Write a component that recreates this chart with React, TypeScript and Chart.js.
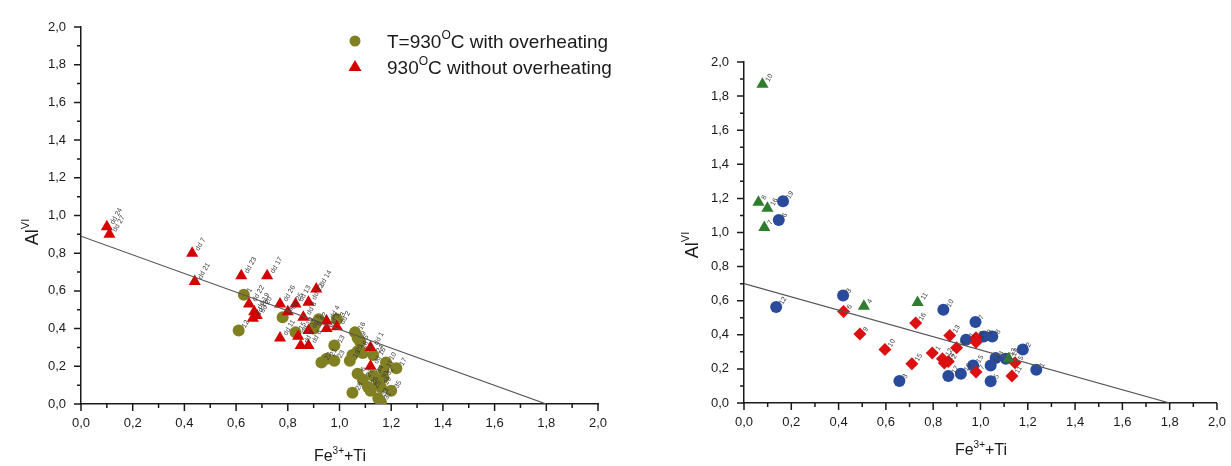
import React, { useEffect, useRef } from "react";
import { Chart, registerables } from "chart.js";
Chart.register(...registerables);

const FONT = "'Liberation Sans', Arial, sans-serif";

const tickValues = [0, 0.2, 0.4, 0.6, 0.8, 1.0, 1.2, 1.4, 1.6, 1.8, 2.0];
const tickLabels = ["0,0", "0,2", "0,4", "0,6", "0,8", "1,0", "1,2", "1,4", "1,6", "1,8", "2,0"];

// ---- Left panel ----
const oliveX = [0.63, 0.61, 0.78, 0.83, 0.91, 0.9, 0.92, 0.99, 0.98, 0.93, 0.95, 0.98, 1.06, 1.07, 1.08, 1.05, 1.04, 1.07, 1.09, 1.13, 1.18, 1.22, 1.17, 1.07, 1.05, 1.09, 1.11, 1.12, 1.15, 1.16, 1.17, 1.15, 1.16, 1.13, 1.2];
const oliveY = [0.58, 0.39, 0.46, 0.38, 0.43, 0.4, 0.45, 0.45, 0.31, 0.22, 0.24, 0.23, 0.38, 0.35, 0.33, 0.26, 0.23, 0.28, 0.27, 0.26, 0.22, 0.19, 0.18, 0.16, 0.06, 0.13, 0.09, 0.07, 0.12, 0.09, 0.14, 0.03, 0.01, 0.15, 0.07];
const oliveLabels = ["1", "12", "16", "15", "4", "8", "2", "3", "13", "22", "21", "23", "16", "9", "5", "20", "19", "18", "14", "24", "10", "17", "11", "6", "28", "27", "26", "25", "30", "29", "32", "33", "31", "34", "35"];

const redTriX = [0.1, 0.11, 0.43, 0.44, 0.62, 0.72, 0.91, 0.65, 0.67, 0.665, 0.68, 0.77, 0.8, 0.83, 0.88, 0.86, 0.77, 0.84, 0.85, 0.88, 0.88, 0.95, 0.95, 0.99, 1.12, 1.12];
const redTriY = [0.94, 0.9, 0.8, 0.65, 0.68, 0.68, 0.61, 0.53, 0.49, 0.455, 0.47, 0.53, 0.49, 0.53, 0.54, 0.46, 0.35, 0.36, 0.31, 0.31, 0.39, 0.44, 0.4, 0.41, 0.3, 0.2];
const redTriLabels = ["dd 24", "dd 27", "dd 7", "dd 21", "dd 23", "dd 17", "dd 14", "dd 22", "dd 19", "dd 18", "dd 20", "dd 26", "dd 25", "dd 13", "dd 12", "dd 8", "dd 11", "dd 10", "dd 9", "dd 6", "dd 5", "dd 4", "dd 3", "dd 2", "dd 1", "dd 16"];

const leftLineX = [0, 1.8];
const leftLineY = [0.89, 0];

// ---- Right panel ----
const blueX = [0.165, 0.147, 0.136, 0.419, 0.843, 0.979, 0.939, 1.014, 1.05, 1.064, 1.043, 1.043, 1.179, 1.236, 0.864, 0.917, 0.969, 0.657, 1.107];
const blueY = [1.183, 1.073, 0.5625, 0.63, 0.547, 0.475, 0.371, 0.39, 0.39, 0.264, 0.22, 0.127, 0.314, 0.195, 0.158, 0.172, 0.22, 0.129, 0.26];
const blueLabels = ["19", "6", "12", "3", "10", "7", "1", "9", "8", "4", "14", "5", "2", "1", "17", "16", "15", "3", "13"];

const redDiaX = [0.421, 0.49, 0.596, 0.71, 0.726, 0.796, 0.839, 0.847, 0.864, 0.87, 0.899, 0.981, 0.981, 0.981, 1.133, 1.146];
const redDiaY = [0.537, 0.404, 0.314, 0.23, 0.469, 0.293, 0.26, 0.234, 0.244, 0.396, 0.324, 0.383, 0.357, 0.182, 0.158, 0.236];
const redDiaLabels = ["6", "9", "10", "15", "16", "1", "12", "14", "2", "13", "3", "4", "8", "7", "11", "5"];

const greenX = [0.078, 0.061, 0.099, 0.086, 0.507, 0.734, 1.119];
const greenY = [1.87, 1.177, 1.142, 1.03, 0.568, 0.59, 0.26];
const greenLabels = ["10", "8", "16", "7", "4", "11", "12"];

const rightLineX = [0, 1.8];
const rightLineY = [0.7, 0];

const zip = (xs: number[], ys: number[]) => xs.map((x, i) => ({ x, y: ys[i] }));

type Part = { t: string; sup?: boolean };

function drawRich(ctx: CanvasRenderingContext2D, parts: Part[], x: number, y: number, size: number, align: "center" | "left") {
  const supSize = Math.round(size * 0.62);
  const widths = parts.map((p) => {
    ctx.font = `${p.sup ? supSize : size}px ${FONT}`;
    return ctx.measureText(p.t).width;
  });
  const total = widths.reduce((a, b) => a + b, 0);
  let cx = align === "center" ? x - total / 2 : x;
  ctx.textBaseline = "middle";
  ctx.textAlign = "left";
  parts.forEach((p, i) => {
    ctx.font = `${p.sup ? supSize : size}px ${FONT}`;
    ctx.fillText(p.t, cx, p.sup ? y - size * 0.38 : y);
    cx += widths[i];
  });
}

const tickPlugin = {
  id: "minorTicks",
  afterDraw(chart: any) {
    const ctx = chart.ctx as CanvasRenderingContext2D;
    ctx.save();
    ctx.strokeStyle = "#1a1a1a";
    ctx.lineWidth = 1.5;
    const xs = chart.scales.x;
    const ys = chart.scales.y;
    const bottom = chart.chartArea.bottom;
    const left = chart.chartArea.left;
    tickValues.forEach((v, i) => {
      const px = xs.getPixelForValue(v);
      const py = ys.getPixelForValue(v);
      ctx.beginPath();
      ctx.moveTo(px, bottom);
      ctx.lineTo(px, bottom + 7);
      ctx.moveTo(left, py);
      ctx.lineTo(left - 7, py);
      ctx.stroke();
      if (i < tickValues.length - 1) {
        const m = (v + tickValues[i + 1]) / 2;
        const mx = xs.getPixelForValue(m);
        const my = ys.getPixelForValue(m);
        ctx.beginPath();
        ctx.moveTo(mx, bottom);
        ctx.lineTo(mx, bottom + 4);
        ctx.moveTo(left, my);
        ctx.lineTo(left - 4, my);
        ctx.stroke();
      }
    });
    ctx.restore();
  },
};

const pointLabelPlugin = {
  id: "pointLabels",
  afterDatasetsDraw(chart: any) {
    const ctx = chart.ctx as CanvasRenderingContext2D;
    ctx.save();
    ctx.fillStyle = "#3a3a3a";
    ctx.font = `7px ${FONT}`;
    ctx.textBaseline = "middle";
    ctx.textAlign = "left";
    chart.data.datasets.forEach((ds: any, di: number) => {
      if (!ds.pointLabels) return;
      const meta = chart.getDatasetMeta(di);
      meta.data.forEach((el: any, j: number) => {
        const lab = ds.pointLabels[j];
        if (!lab) return;
        ctx.save();
        ctx.translate(el.x + 5, el.y - 3);
        ctx.rotate(-Math.PI / 3);
        ctx.fillText(lab, 0, 0);
        ctx.restore();
      });
    });
    ctx.restore();
  },
};

function titlePlugin(xTitle: { x: number; y: number }, yTitle: { x: number; y: number }, legend: boolean) {
  return {
    id: "titles",
    afterDraw(chart: any) {
      const ctx = chart.ctx as CanvasRenderingContext2D;
      ctx.save();
      ctx.fillStyle = "#1a1a1a";
      drawRich(ctx, [{ t: "Fe" }, { t: "3+", sup: true }, { t: "+Ti" }], xTitle.x, xTitle.y, 16, "center");
      ctx.save();
      ctx.translate(yTitle.x, yTitle.y);
      ctx.rotate(-Math.PI / 2);
      drawRich(ctx, [{ t: "Al" }, { t: "VI", sup: true }], 0, 0, 18, "center");
      ctx.restore();
      if (legend) {
        ctx.fillStyle = "#808022";
        ctx.beginPath();
        ctx.arc(355, 41, 5.5, 0, Math.PI * 2);
        ctx.fill();
        ctx.fillStyle = "#d40000";
        ctx.beginPath();
        ctx.moveTo(355, 60);
        ctx.lineTo(361.5, 71);
        ctx.lineTo(348.5, 71);
        ctx.closePath();
        ctx.fill();
        ctx.fillStyle = "#1a1a1a";
        drawRich(ctx, [{ t: "T=930" }, { t: "O", sup: true }, { t: "C with overheating" }], 387, 43, 19, "left");
        drawRich(ctx, [{ t: "930" }, { t: "O", sup: true }, { t: "C without overheating" }], 387, 69, 19, "left");
      }
      ctx.restore();
    },
  };
}

function makeScale(axis: "x" | "y", size: number) {
  return {
    type: "linear" as const,
    min: 0,
    max: 2,
    afterBuildTicks: (s: any) => {
      s.ticks = tickValues.map((v) => ({ value: v }));
    },
    afterFit: (s: any) => {
      if (axis === "x") s.height = size;
      else s.width = size;
    },
    ticks: {
      autoSkip: false,
      maxRotation: 0,
      padding: axis === "x" ? 5 : 8,
      color: "#1a1a1a",
      font: { family: FONT, size: 13 },
      callback: (v: number) => {
        const i = tickValues.findIndex((t) => Math.abs(t - v) < 1e-9);
        return i >= 0 ? tickLabels[i] : "";
      },
    },
    grid: { display: true, drawOnChartArea: false, drawTicks: true, tickLength: 7, tickColor: "rgba(0,0,0,0)" },
    border: { display: true, color: "#1a1a1a", width: 1.5 },
  };
}

function makeConfig(datasets: any[], pad: { top: number; right: number }, yWidth: number, xHeight: number, plugins: any[]) {
  return {
    type: "scatter" as const,
    data: { datasets },
    options: {
      animation: false as const,
      responsive: false,
      maintainAspectRatio: false,
      layout: { padding: { top: pad.top, right: pad.right, left: 0, bottom: 0 } },
      plugins: { legend: { display: false }, tooltip: { enabled: false } },
      scales: { x: makeScale("x", xHeight), y: makeScale("y", yWidth) },
    },
    plugins,
  };
}

const lineDs = (xs: number[], ys: number[]) => ({
  data: zip(xs, ys),
  showLine: true,
  pointRadius: 0,
  borderColor: "#555",
  borderWidth: 1.2,
  fill: false,
});

export default function App() {
  const leftRef = useRef<HTMLCanvasElement>(null);
  const rightRef = useRef<HTMLCanvasElement>(null);

  useEffect(() => {
    const left = new Chart(
      leftRef.current!,
      makeConfig(
        [
          lineDs(leftLineX, leftLineY),
          { data: zip(redTriX, redTriY), pointLabels: redTriLabels, pointStyle: "triangle", pointRadius: 7, backgroundColor: "#d40000", borderColor: "#d40000", borderWidth: 0 },
          { data: zip(oliveX, oliveY), pointLabels: oliveLabels, pointStyle: "circle", pointRadius: 6, backgroundColor: "#808022", borderColor: "#808022", borderWidth: 0 },
        ],
        { top: 27, right: 22 },
        81,
        62,
        [tickPlugin, pointLabelPlugin, titlePlugin({ x: 340, y: 457 }, { x: 33, y: 232 }, true)]
      ) as any
    );
    const right = new Chart(
      rightRef.current!,
      makeConfig(
        [
          lineDs(rightLineX, rightLineY),
          { data: zip(greenX, greenY), pointLabels: greenLabels, pointStyle: "triangle", pointRadius: 7, backgroundColor: "#2e7d2e", borderColor: "#2e7d2e", borderWidth: 0 },
          { data: zip(redDiaX, redDiaY), pointLabels: redDiaLabels, pointStyle: "rectRot", pointRadius: 6.5, backgroundColor: "#dc1010", borderColor: "#dc1010", borderWidth: 0 },
          { data: zip(blueX, blueY), pointLabels: blueLabels, pointStyle: "circle", pointRadius: 6, backgroundColor: "#2a4b9b", borderColor: "#2a4b9b", borderWidth: 0 },
        ],
        { top: 62, right: 12 },
        124,
        63,
        [tickPlugin, pointLabelPlugin, titlePlugin({ x: 361, y: 451 }, { x: 73, y: 245 }, false)]
      ) as any
    );
    return () => {
      left.destroy();
      right.destroy();
    };
  }, []);

  return (
    <div style={{ position: "fixed", left: 0, top: 0, width: 1231, height: 466, background: "#fff" }}>
      <canvas ref={leftRef} width={620} height={466} style={{ position: "absolute", left: 0, top: 0, width: 620, height: 466 }} />
      <canvas ref={rightRef} width={611} height={466} style={{ position: "absolute", left: 620, top: 0, width: 611, height: 466 }} />
    </div>
  );
}
